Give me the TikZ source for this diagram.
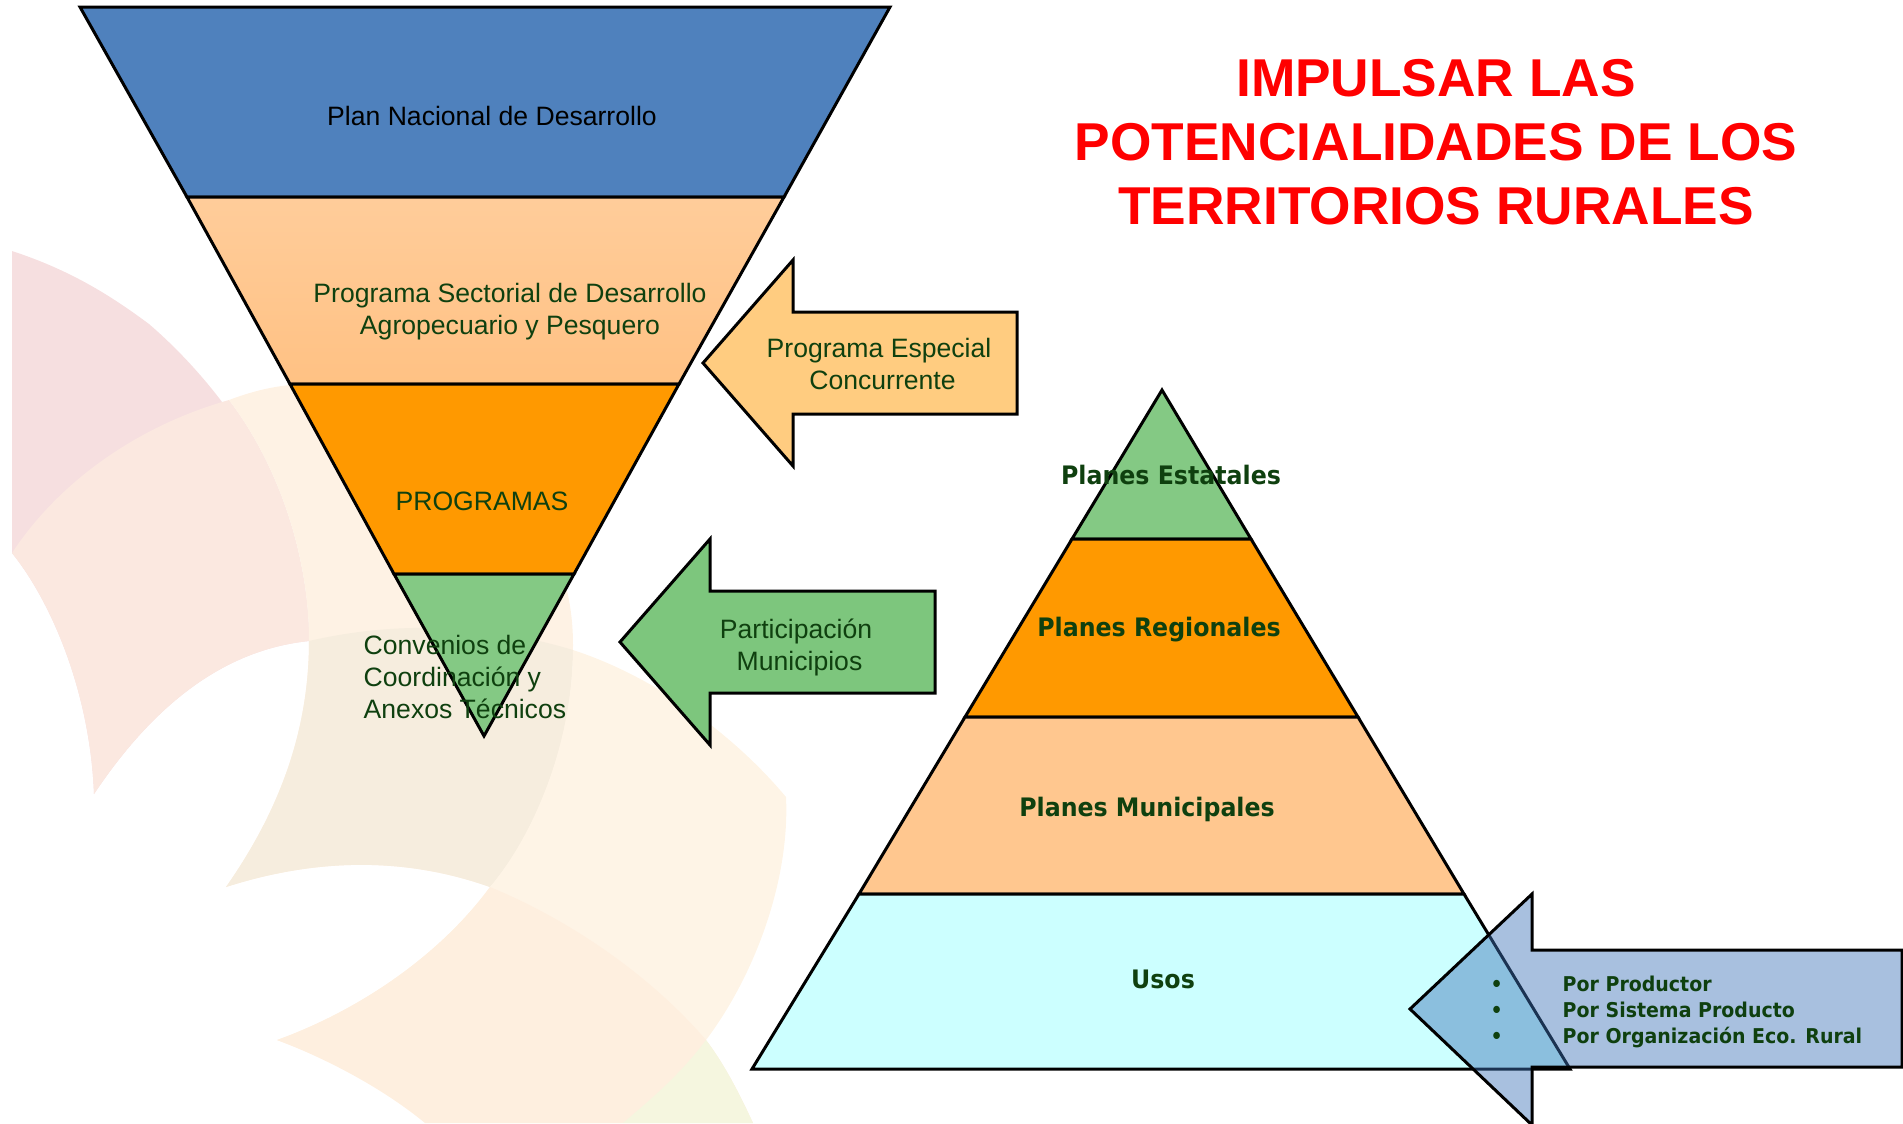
\documentclass[tikz,border=0pt]{standalone}
\usepackage{fontspec}
\setmainfont{Liberation Sans}
\newfontfamily\vbold{DejaVu Sans}[FakeStretch=0.93]
\definecolor{txtgreen}{HTML}{0F400F}
\definecolor{blueband}{HTML}{4F81BD}
\definecolor{peachband}{HTML}{FFC78F}
\definecolor{orangeband}{HTML}{FF9900}
\definecolor{greenband}{HTML}{84C984}
\definecolor{cyanband}{HTML}{CCFFFF}
\definecolor{arrowpeach}{HTML}{FFCC80}
\definecolor{arrowgreen}{HTML}{7DC67D}
\definecolor{arrowblue}{HTML}{3E73B8}
\definecolor{bgpink}{HTML}{F6DFE0}
\definecolor{bgpale}{HTML}{FBE8E0}
\definecolor{bgpeach}{HTML}{FEF2E4}
\definecolor{bgtan}{HTML}{F6EDDE}
\definecolor{bgc}{HTML}{FEF4E6}
\definecolor{bge}{HTML}{FEEFDF}
\definecolor{bgg}{HTML}{F5F6DF}
\tikzset{
  band/.style={draw=black,line width=0.85pt,line join=miter},
  arrowshape/.style={draw=black,line width=0.85pt,line join=miter},
  lab/.style={text=txtgreen,font=\fontsize{7.56pt}{9.1pt}\selectfont,align=center,inner sep=0pt},
  blab/.style={text=txtgreen,font=\vbold\bfseries\fontsize{7.24pt}{9pt}\selectfont,align=center,inner sep=0pt},
  plab/.style={text=txtgreen,font=\vbold\bfseries\fontsize{5.8pt}{7.3pt}\selectfont,align=left,inner sep=0pt,anchor=west},
}
\begin{document}
\begin{tikzpicture}[x=0.01cm,y=-0.01cm]
\useasboundingbox (0,0) rectangle (1903,1123);
% background petals
\fill[bgpink] (12,251) .. controls (70,270) and (110,295) .. (149,324) .. controls (220,385) and (309,500) .. (309,641) .. controls (220,650) and (150,710) .. (94,794) .. controls (90,690) and (50,600) .. (12,553) -- cycle;
\fill[bgpale] (12,553) .. controls (60,480) and (140,425) .. (229,400) .. controls (275,460) and (309,550) .. (309,641) .. controls (220,650) and (150,710) .. (94,794) .. controls (90,690) and (50,600) .. (12,553) -- cycle;
\fill[bgpeach] (229,400) .. controls (250,392) and (270,387) .. (290,385) .. controls (420,400) and (573,480) .. (573,645) .. controls (573,760) and (530,840) .. (490,887) .. controls (400,855) and (310,860) .. (226,887) .. controls (280,810) and (309,730) .. (309,641) .. controls (309,550) and (275,460) .. (229,400) -- cycle;
\fill[bgtan] (309,641) .. controls (400,620) and (490,625) .. (573,650) .. controls (572,750) and (530,840) .. (490,887) .. controls (400,855) and (310,860) .. (226,887) .. controls (280,810) and (309,730) .. (309,641) -- cycle;
\fill[bgc] (573,650) .. controls (650,675) and (730,730) .. (786,797) .. controls (790,880) and (755,975) .. (706,1040) .. controls (680,1075) and (650,1100) .. (623,1123) -- (500,1123) -- (277,1040) .. controls (360,1010) and (440,955) .. (490,887) .. controls (530,840) and (572,750) .. (573,650) -- cycle;
\fill[bge] (490,887) .. controls (570,920) and (650,975) .. (706,1040) .. controls (725,1065) and (740,1095) .. (753,1123) -- (425,1123) .. controls (385,1090) and (330,1060) .. (277,1040) .. controls (360,1010) and (440,955) .. (490,887) -- cycle;
\fill[bgg] (706,1040) .. controls (725,1065) and (740,1095) .. (753,1123) -- (623,1123) .. controls (650,1100) and (680,1075) .. (706,1040) -- cycle;
% funnel
\coordinate (f1) at (80,7); \coordinate (f2) at (890,7);
\coordinate (f3) at (187,197); \coordinate (f4) at (784,197);
\coordinate (f5) at (290,384); \coordinate (f6) at (679,384);
\coordinate (f7) at (394,574); \coordinate (f8) at (574,574);
\coordinate (f9) at (484,736);
\draw[band,fill=blueband] (f1) -- (f2) -- (f4) -- (f3) -- cycle;
\draw[band,top color=peachband!90!white,bottom color=peachband!92!orange] (f3) -- (f4) -- (f6) -- (f5) -- cycle;
\draw[band,fill=orangeband] (f5) -- (f6) -- (f8) -- (f7) -- cycle;
\draw[band,fill=greenband] (f7) -- (f8) -- (f9) -- cycle;
% pyramid
\coordinate (p0) at (1162,390);
\coordinate (p1) at (1072,539); \coordinate (p2) at (1251,539);
\coordinate (p3) at (965,717); \coordinate (p4) at (1358,717);
\coordinate (p5) at (859,894); \coordinate (p6) at (1464,894);
\coordinate (p7) at (752,1069); \coordinate (p8) at (1570,1069);
\draw[band,fill=greenband] (p0) -- (p2) -- (p1) -- cycle;
\draw[band,fill=orangeband] (p1) -- (p2) -- (p4) -- (p3) -- cycle;
\draw[band,fill=peachband] (p3) -- (p4) -- (p6) -- (p5) -- cycle;
\draw[band,fill=cyanband] (p5) -- (p6) -- (p8) -- (p7) -- cycle;
% arrows
\draw[arrowshape,fill=arrowpeach] (703,363) -- (793,260) -- (793,312) -- (1017,312) -- (1017,414) -- (793,414) -- (793,466) -- cycle;
\draw[arrowshape,fill=arrowgreen] (620,642) -- (710,539) -- (710,591) -- (935,591) -- (935,693) -- (710,693) -- (710,745) -- cycle;
\draw[arrowshape,fill=arrowblue,fill opacity=0.45] (1410,1009) -- (1532,894) -- (1532,950) -- (1902,950) -- (1902,1067) -- (1532,1067) -- (1532,1125) -- cycle;
% labels
\node[lab,text=black] (t1) at (492,116) {Plan Nacional de Desarrollo};
\node[lab] (t2) at (510,312) {Programa Sectorial de Desarrollo\\Agropecuario y Pesquero};
\node[lab] (t3) at (482,501) {PROGRAMAS};
\node[lab,align=left,anchor=west] (t4) at (363,677) {Convenios de\\Coordinación y\\Anexos Técnicos};
\node[lab] (t5) at (879,364) {Programa Especial\\\hspace*{2pt}Concurrente};
\node[lab] (t6) at (796,647) {Participación\\\hspace*{2pt}Municipios};
\node[blab] (t7) at (1171,475) {Planes Estatales};
\node[blab] (t8) at (1159,630) {Planes Regionales};
\node[blab] (t9) at (1147,809) {Planes Municipales};
\node[blab] (t10) at (1163,979) {Usos};
\node[plab] (t11) at (1562,1012) {Por Productor\\Por Sistema Producto\\Por Organización Eco. Rural};
\node[plab] (t12) at (1490,1012) {•\\•\\•};
\node[text=red,font=\bfseries\fontsize{15.15pt}{18.2pt}\selectfont,align=center,inner sep=0pt] (t13) at (1436,142) {IMPULSAR LAS\\POTENCIALIDADES DE LOS\\TERRITORIOS RURALES};
\end{tikzpicture}
\end{document}
